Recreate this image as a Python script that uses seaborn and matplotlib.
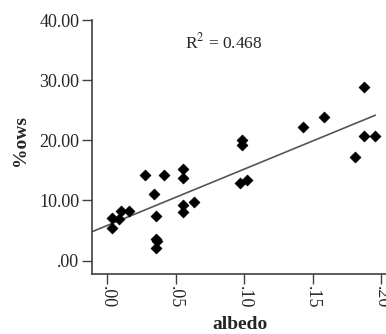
import numpy as np
import pandas as pd
import matplotlib
matplotlib.use("Agg")
import matplotlib.pyplot as plt
import seaborn as sns

# values
albedo = [0.0036, 0.0036, 0.0088, 0.0105, 0.016, 0.0277, 0.0416, 0.0346, 0.036,
          0.0355, 0.0365, 0.036, 0.0553, 0.0553, 0.0553, 0.0553, 0.0635, 0.0985,
          0.0985, 0.0969, 0.1018, 0.1426, 0.158, 0.1808, 0.1876, 0.1876, 0.1956]
ows = [5.4, 7.1, 6.9, 8.2, 8.2, 14.3, 14.3, 11.1, 7.5,
       3.6, 3.3, 2.1, 15.2, 13.7, 9.2, 8.1, 9.7, 20.0,
       19.2, 12.9, 13.45, 22.2, 23.9, 17.3, 28.8, 20.8, 20.8]
xticks = [0.0, 0.05, 0.10, 0.15, 0.20]
xticklabels = [".00", ".05", ".10", ".15", ".20"]
yticks = [0, 10, 20, 30, 40]
yticklabels = [".00", "10.00", "20.00", "30.00", "40.00"]
r2_text = "R$^2$ = 0.468"

df = pd.DataFrame({"albedo": albedo, "ows": ows})

sns.set_style("ticks")
plt.rcParams["font.family"] = ["Liberation Serif", "DejaVu Serif"]
plt.rcParams["mathtext.fontset"] = "stix"

fig = plt.figure(figsize=(3.86, 3.34), dpi=100)
ax = fig.add_axes([0.238, 0.18, 0.80, 0.76])

# linear fit line, from the left edge to the last point
slope, intercept = np.polyfit(df["albedo"], df["ows"], 1)
xl = -0.011
line_x = np.array([xl, df["albedo"].max()])
fit = pd.DataFrame({"x": line_x, "y": intercept + slope * line_x})
sns.lineplot(data=fit, x="x", y="y", ax=ax, color="#555555", linewidth=1.2)

sns.scatterplot(data=df, x="albedo", y="ows", ax=ax, marker="D", s=30,
                color="black", edgecolor="black", linewidth=0.6, zorder=3)

ax.set_xlim(xl, 0.214)
ax.set_ylim(-2.2, 40.0)
ax.set_xticks(xticks)
ax.set_xticklabels(xticklabels, rotation=-90)
ax.set_yticks(yticks)
ax.set_yticklabels(yticklabels)
ax.tick_params(axis="both", length=7, width=1, color="#404040", labelsize=13, pad=2)

sns.despine(ax=ax)
for side in ["left", "bottom"]:
    ax.spines[side].set_color("#404040")
    ax.spines[side].set_linewidth(1.2)

ax.set_xlabel("albedo", fontsize=14, fontweight="bold")
ax.set_ylabel("%ows", fontsize=14, fontweight="bold")
ax.xaxis.set_label_coords(0.479, -0.166)
ax.yaxis.set_label_coords(-0.205, 0.524)
ax.text(0.057, 36.3, r2_text, fontsize=12.5, va="center", ha="left")

fig.savefig("out.png", dpi=100)
